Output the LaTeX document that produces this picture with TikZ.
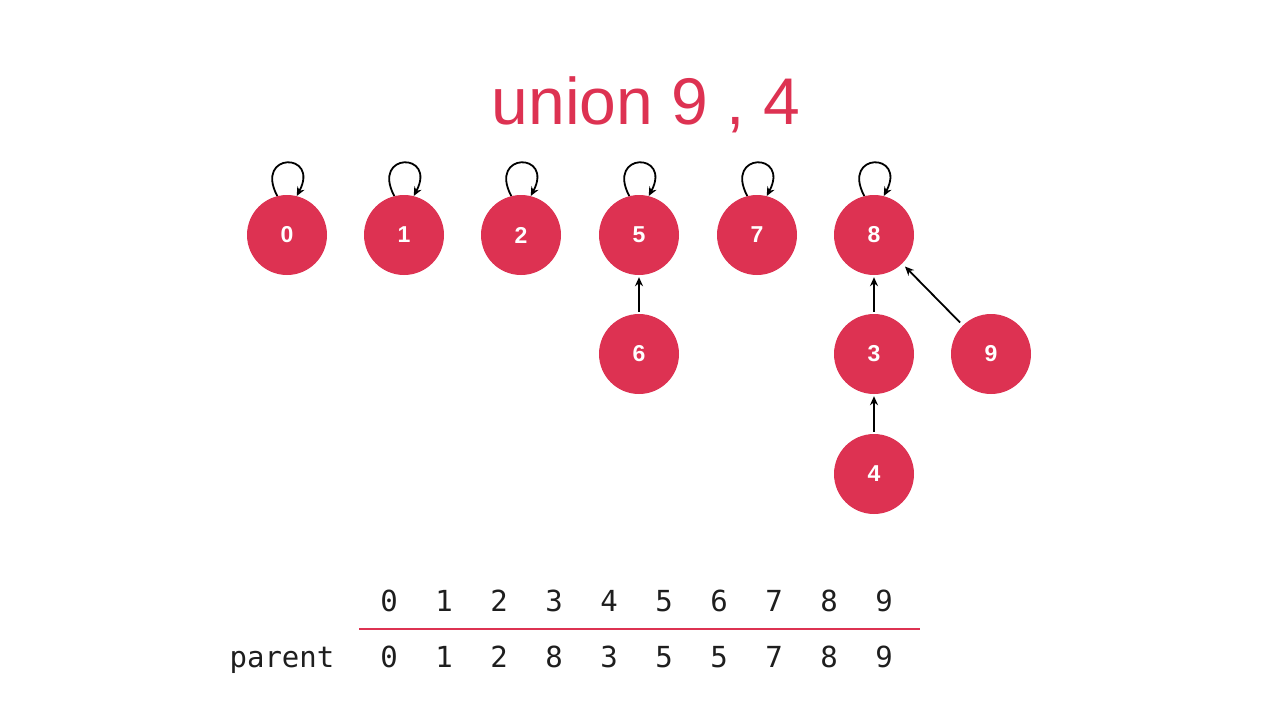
\documentclass[tikz,border=0pt]{standalone}
\usepackage{fontspec}
\setmainfont{Liberation Sans}
\newfontfamily\monofont{DejaVu Sans Mono}
\usetikzlibrary{arrows.meta}
\definecolor{crim}{RGB}{221,50,82}
\definecolor{ink}{RGB}{30,30,30}
\begin{document}
\begin{tikzpicture}[x=1pt,y=1pt,
  vtx/.style={circle,fill=crim,draw=none,minimum size=80pt,inner sep=0pt,text=white,font=\bfseries\fontsize{23}{23}\selectfont},
  link/.style={draw=black,line width=1.8pt,-{Stealth[length=9pt,width=8pt]}},
  selfloop/.style={draw=black,line width=1.8pt,-{Stealth[length=9pt,width=8pt]}},
  idx/.style={font=\monofont\fontsize{29}{29}\selectfont,text=ink,anchor=base},
]
\useasboundingbox (0,0) rectangle (1280,-720);
\node[font=\fontsize{66}{66}\selectfont,text=crim] (title) at (646,-105) {union 9 , 4};

\node[vtx] (n0) at (287,-235) {0};
\node[vtx] (n1) at (404,-235) {1};
\node[vtx] (n2) at (521,-235) {2};
\node[vtx] (n5) at (639,-235) {5};
\node[vtx] (n7) at (757,-235) {7};
\node[vtx] (n8) at (874,-235) {8};
\node[vtx] (n6) at (639,-354) {6};
\node[vtx] (n3) at (874,-354) {3};
\node[vtx] (n9) at (991,-354) {9};
\node[vtx] (n4) at (874,-474) {4};

\foreach \n in {n0,n1,n2,n5,n7,n8}{
  \draw[selfloop] (\n.104) .. controls +(118:50) and +(62:50) .. (\n.76);
}

\draw[link,shorten <=2pt,shorten >=2pt] (n6) -- (n5);
\draw[link,shorten <=2pt,shorten >=2pt] (n3) -- (n8);
\draw[link,shorten <=2pt,shorten >=2pt] (n4) -- (n3);
\draw[link,shorten <=4pt,shorten >=4pt] (n9) -- (n8);

\foreach \i [count=\k from 0] in {0,...,9}{
  \node[idx] (h\k) at (389+55*\k,-611) {\i};
}
\foreach \v [count=\k from 0] in {0,1,2,8,3,5,5,7,8,9}{
  \node[idx] (p\k) at (389+55*\k,-667) {\v};
}
\node[idx,text=ink] (plabel) at (282,-667) {parent};
\draw[crim,line width=2pt] (359,-629) coordinate (la) -- (920,-629) coordinate (lb);
\end{tikzpicture}
\end{document}
